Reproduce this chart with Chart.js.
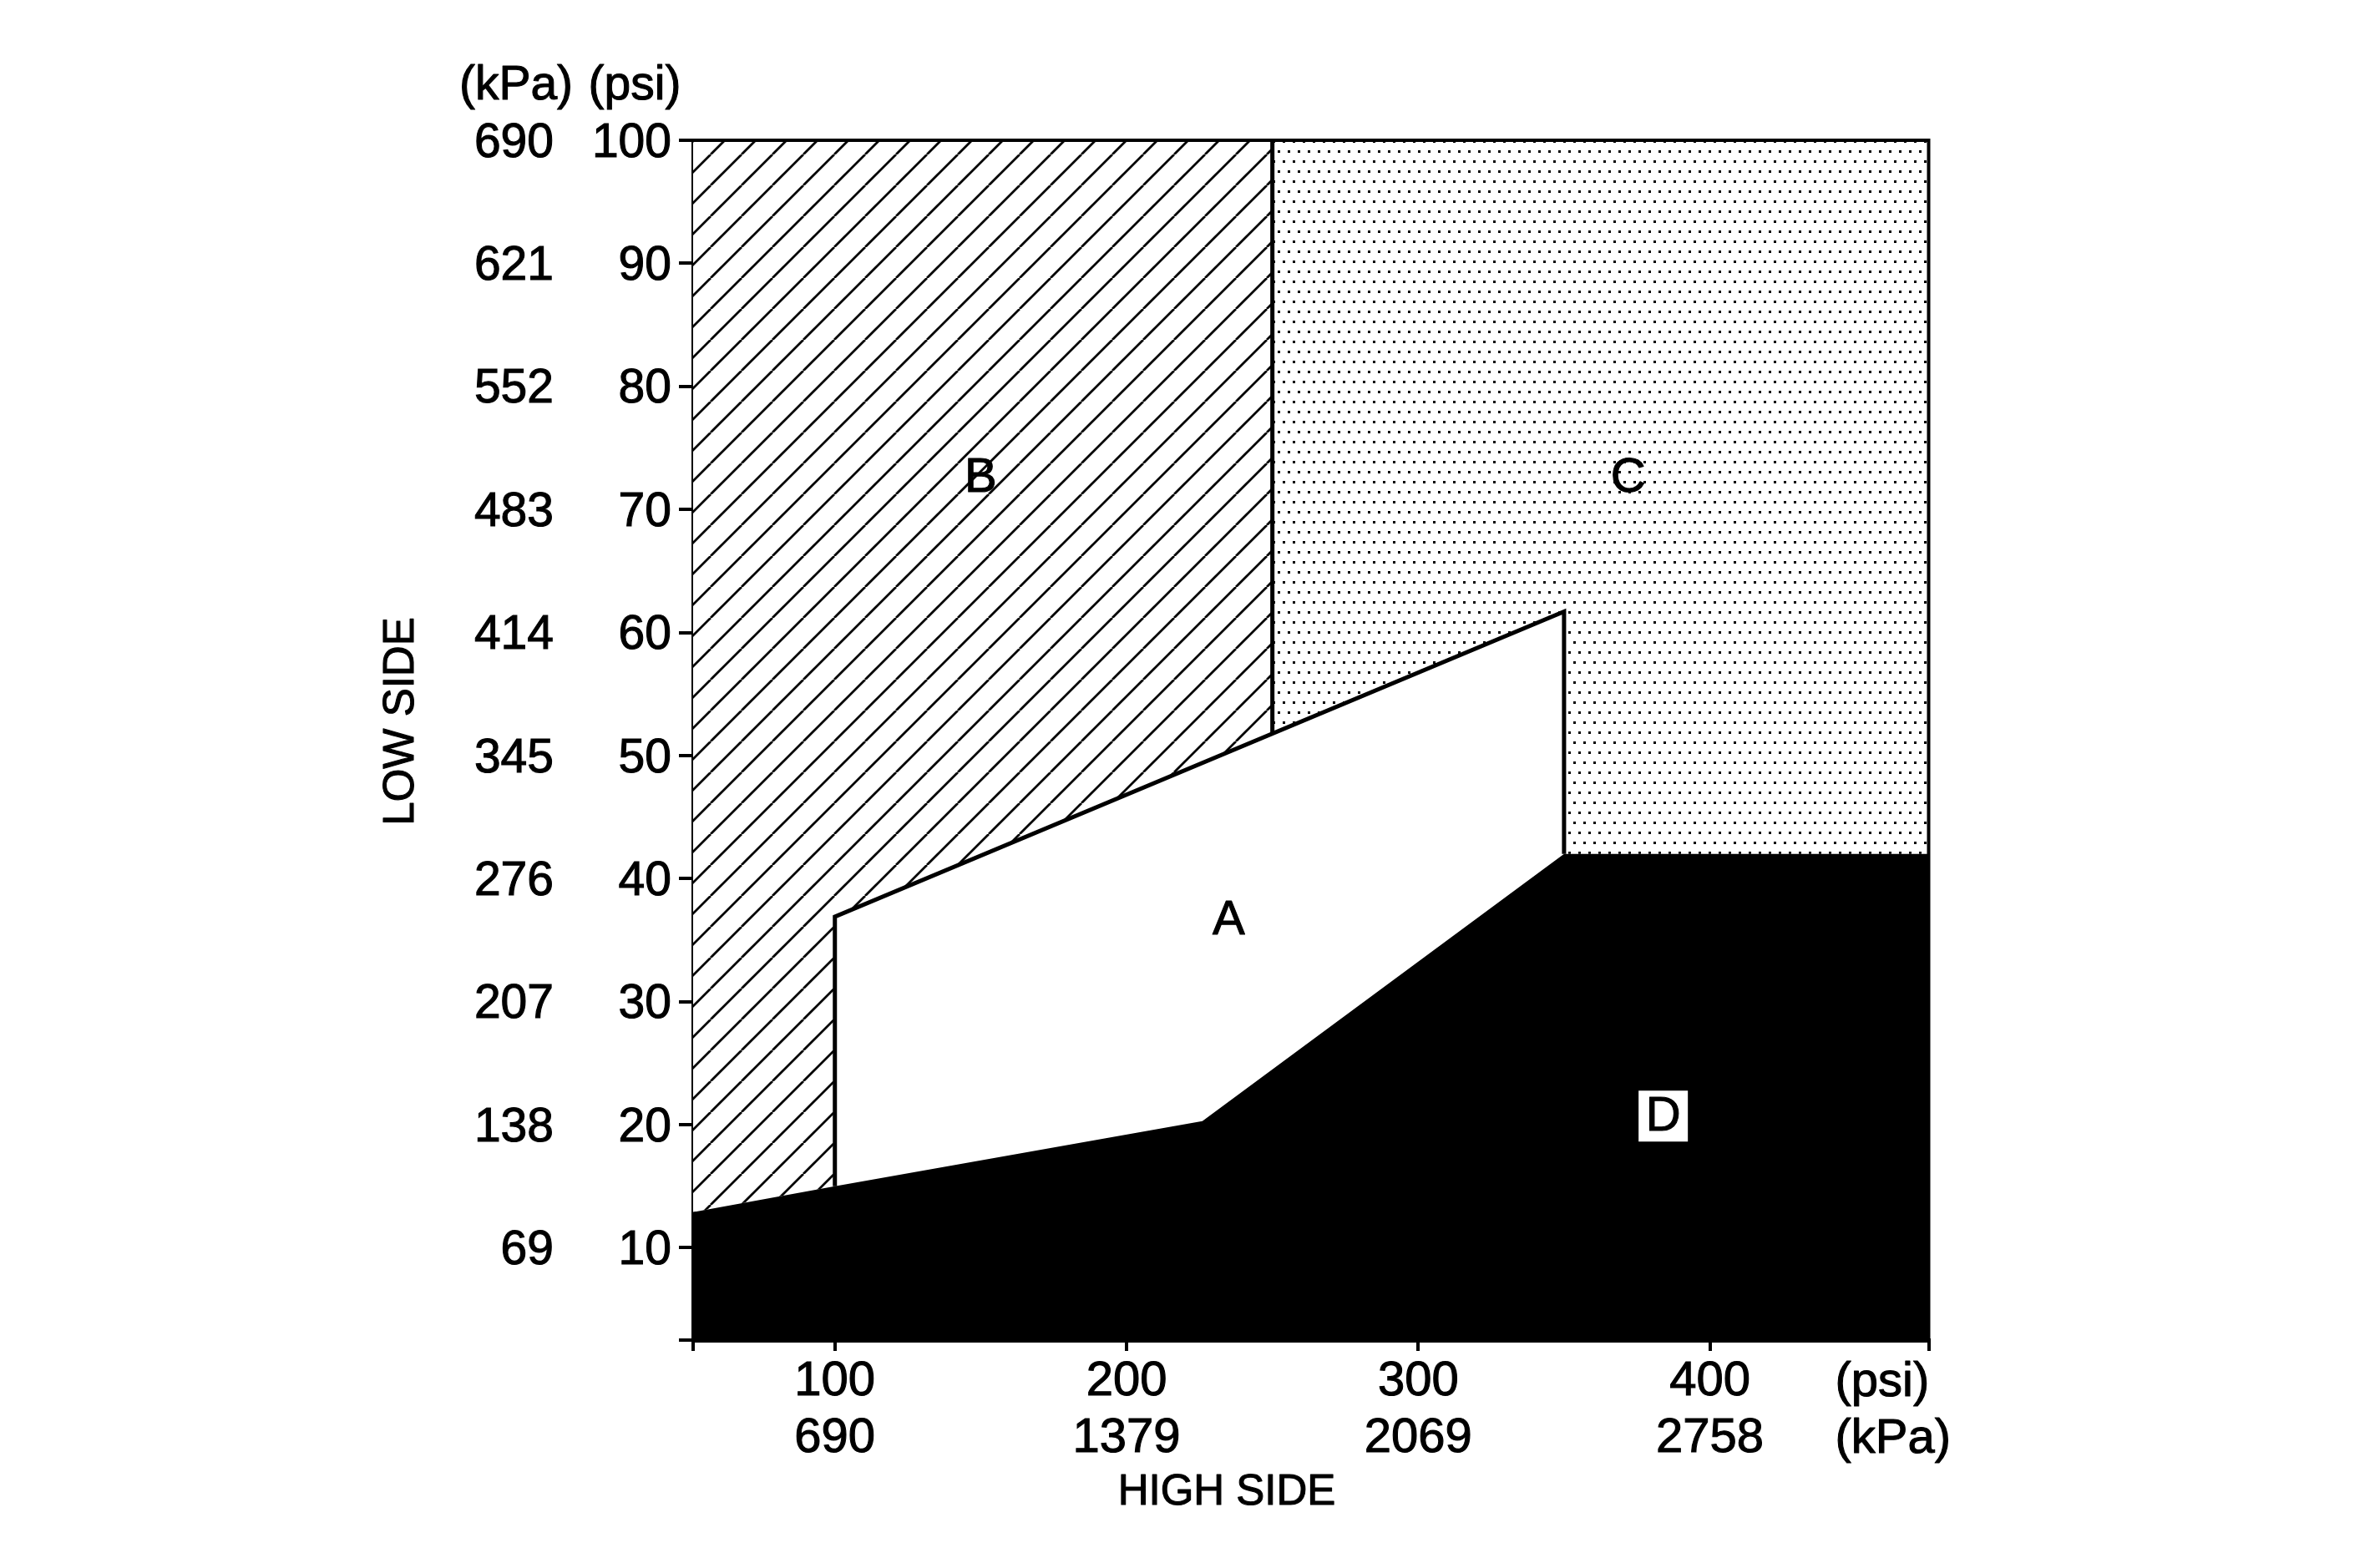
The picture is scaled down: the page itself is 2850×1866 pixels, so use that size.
<!DOCTYPE html>
<html>
<head>
<meta charset="utf-8">
<title>High side / low side pressure chart</title>
<script src="https://cdn.jsdelivr.net/npm/chart.js@4.4.1/dist/chart.umd.min.js"></script>
<style>
   html, body { margin: 0; padding: 0; background: #fff; }
   #wrapper { width: 2850px; height: 1866px; position: relative; }
</style>
</head>
<body>
<div id="wrapper"><canvas id="pressureChart"></canvas></div>
<script>
var HIGH_MIN = 51.4;
var HIGH_MAX = 475;
var LOW_MIN  = 2.5;
var LOW_MAX  = 100;

var highSidePsi = [100, 200, 300, 400];
var highSideKpa = ['690', '1379', '2069', '2758'];
var lowSidePsi  = [10, 20, 30, 40, 50, 60, 70, 80, 90, 100];
var lowSideKpa  = ['69', '138', '207', '276', '345', '414', '483', '552', '621', '690'];

// zone corners, high side psi / low side psi
var zoneAHigh = [100, 100, 350, 350, 226];
var zoneALow  = [15.0, 36.9, 61.7, 42.0, 20.3];
var zoneBHigh = [HIGH_MIN, 250, 250, 100, 100, HIGH_MIN];
var zoneBLow  = [LOW_MAX, LOW_MAX, 51.8, 36.9, 15.0, 12.9];
var zoneCHigh = [250, HIGH_MAX, HIGH_MAX, 350, 350, 250];
var zoneCLow  = [LOW_MAX, LOW_MAX, 42.0, 42.0, 61.7, 51.8];
var zoneDHigh = [HIGH_MIN, HIGH_MIN, 100, 226, 350, HIGH_MAX, HIGH_MAX];
var zoneDLow  = [LOW_MIN, 12.9, 15.0, 20.3, 42.0, 42.0, LOW_MIN];

var zoneNames    = ['A', 'B', 'C', 'D'];
var zoneNameHigh = [235, 150, 372, 384];
var zoneNameLow  = [36.6, 72.6, 72.6, 20.7];

var FONT = '"Liberation Sans", Arial, Helvetica, sans-serif';
var TEXT_STROKE = 1.1;

var toPoints = function toPoints(xs, ys, close) {
   var points = xs.map((x, i) => ({x: x, y: ys[i]}));
   if (close) {
      points.push({x: xs[0], y: ys[0]});
   }
   return points;
};

var makeHatch = function makeHatch(ctx) {
   var size = 37;
   var tile = document.createElement('canvas');
   tile.width = size;
   tile.height = size;
   var c = tile.getContext('2d');
   c.fillStyle = '#fff';
   c.fillRect(0, 0, size, size);
   c.strokeStyle = '#000';
   c.lineWidth = 2.8;
   c.beginPath();
   [-1, 0, 1].forEach(k => {
      c.moveTo(k * size, size);
      c.lineTo(k * size + size, 0);
   });
   c.stroke();
   return ctx.createPattern(tile, 'repeat');
};

var makeDots = function makeDots(ctx) {
   var tile = document.createElement('canvas');
   tile.width = 12;
   tile.height = 24;
   var c = tile.getContext('2d');
   c.fillStyle = '#fff';
   c.fillRect(0, 0, 12, 24);
   c.fillStyle = '#000';
   c.fillRect(0, 0, 3, 3);
   c.fillRect(6, 12, 3, 3);
   return ctx.createPattern(tile, 'repeat');
};

var zoneDataset = function zoneDataset(label, xs, ys, color, order) {
   return {
      label: label,
      data: toPoints(xs, ys, true),
      fill: 'shape',
      backgroundColor: color,
      borderColor: 'rgba(0,0,0,0)',
      borderWidth: 0,
      pointRadius: 0,
      order: order
   };
};

var outlineDataset = function outlineDataset(label, points, width) {
   return {
      label: label,
      data: points,
      fill: false,
      borderColor: '#000',
      borderWidth: width,
      borderJoinStyle: 'miter',
      pointRadius: 0,
      clip: false,
      order: 0
   };
};

var fixedTicks = function fixedTicks(min, values, max) {
   return function(scale) {
      scale.ticks = [min].concat(values, [max]).map(v => ({value: v}));
   };
};

var drawText = function drawText(ctx, text, x, y) {
   ctx.strokeText(text, x, y);
   ctx.fillText(text, x, y);
};

var labelPlugin = {
   id: 'pressureLabels',
   afterDraw: function(chart) {
      var ctx = chart.ctx;
      var area = chart.chartArea;
      var xScale = chart.scales.x;
      var yScale = chart.scales.y;

      ctx.save();
      ctx.fillStyle = '#000';
      ctx.strokeStyle = '#000';
      ctx.lineWidth = TEXT_STROKE;
      ctx.lineJoin = 'round';
      ctx.textBaseline = 'alphabetic';

      // unit headers over the low side columns
      ctx.font = '57px ' + FONT;
      ctx.textAlign = 'center';
      drawText(ctx, '(kPa)', area.left - 212, area.top - 49);
      drawText(ctx, '(psi)', area.left - 70, area.top - 49);

      // unit labels after the high side ticks
      ctx.font = '58px ' + FONT;
      ctx.textAlign = 'left';
      drawText(ctx, '(psi)', area.right - 112, area.bottom + 67);
      drawText(ctx, '(kPa)', area.right - 112, area.bottom + 135);

      ctx.font = '51px ' + FONT;
      ctx.textAlign = 'center';
      drawText(ctx, 'HIGH SIDE', area.left + 639, area.bottom + 197);

      ctx.save();
      ctx.translate(area.left - 349, area.top + 696);
      ctx.rotate(-Math.PI / 2);
      ctx.textBaseline = 'middle';
      drawText(ctx, 'LOW SIDE', 0, 0);
      ctx.restore();

      // zone letters
      ctx.font = '58px ' + FONT;
      ctx.textBaseline = 'middle';
      zoneNames.forEach((name, i) => {
         var px = xScale.getPixelForValue(zoneNameHigh[i]);
         var py = yScale.getPixelForValue(zoneNameLow[i]);
         if (name === 'D') {
            ctx.fillStyle = '#fff';
            ctx.fillRect(px - 29.5, py - 30.5, 59, 61);
         }
         ctx.fillStyle = '#000';
         drawText(ctx, name, px, py + 1);
      });
      ctx.restore();
   }
};

var canvas = document.getElementById('pressureChart');
var context = canvas.getContext('2d');
var hatch = makeHatch(context);
var dots = makeDots(context);

var chartConfig = {
   type: 'line',
   data: {
      datasets: [
         outlineDataset('zone A outline', toPoints(zoneAHigh.slice(0, 4), zoneALow.slice(0, 4), false), 5),
         outlineDataset('zone B edge', toPoints([250, 250], [51.8, LOW_MAX], false), 5),
         outlineDataset('frame', toPoints([HIGH_MIN, HIGH_MAX, HIGH_MAX], [LOW_MAX, LOW_MAX, LOW_MIN], false), 4),
         zoneDataset('D', zoneDHigh, zoneDLow, '#000', 1),
         zoneDataset('A', zoneAHigh, zoneALow, '#fff', 2),
         zoneDataset('C', zoneCHigh, zoneCLow, dots, 3),
         zoneDataset('B', zoneBHigh, zoneBLow, hatch, 4)
      ]
   },
   options: {
      responsive: true,
      maintainAspectRatio: false,
      devicePixelRatio: 1,
      animation: false,
      events: [],
      layout: {
         padding: {left: 520, right: 540.5, top: 168, bottom: 0}
      },
      elements: {
         line: { tension: 0 },
         point: { radius: 0 }
      },
      scales: {
         x: {
            type: 'linear',
            position: 'bottom',
            min: HIGH_MIN,
            max: HIGH_MAX,
            afterBuildTicks: fixedTicks(HIGH_MIN, highSidePsi, HIGH_MAX),
            afterFit: function(scale) {
               scale.height = 261;
            },
            ticks: {
               autoSkip: false,
               maxRotation: 0,
               minRotation: 0,
               padding: 3,
               color: '#000',
               textStrokeColor: '#000',
               textStrokeWidth: TEXT_STROKE,
               font: {family: FONT, size: 58, lineHeight: 68 / 58},
               callback: function(value) {
                  var index = highSidePsi.indexOf(value);
                  return index >= 0 ? [String(highSidePsi[index]), highSideKpa[index]] : '';
               }
            },
            grid: {
               drawOnChartArea: false,
               drawTicks: true,
               tickLength: 13,
               lineWidth: 4,
               color: '#000'
            },
            border: { display: true, color: '#000', width: 5 }
         },
         y: {
            type: 'linear',
            position: 'left',
            weight: 0,
            min: LOW_MIN,
            max: LOW_MAX,
            afterBuildTicks: fixedTicks(LOW_MIN, lowSidePsi.slice(0, -1), LOW_MAX),
            afterFit: function(scale) {
               scale.width = 160;
            },
            ticks: {
               autoSkip: false,
               padding: 9,
               labelOffset: 4,
               color: '#000',
               textStrokeColor: '#000',
               textStrokeWidth: TEXT_STROKE,
               font: {family: FONT, size: 57},
               callback: function(value) {
                  return lowSidePsi.indexOf(value) >= 0 ? String(value) : '';
               }
            },
            grid: {
               drawOnChartArea: false,
               drawTicks: true,
               tickLength: 17,
               lineWidth: 4,
               color: '#000'
            },
            border: { display: true, color: '#000', width: 5 }
         },
         yKpa: {
            type: 'linear',
            position: 'left',
            weight: 1,
            min: LOW_MIN,
            max: LOW_MAX,
            afterBuildTicks: fixedTicks(LOW_MIN, lowSidePsi.slice(0, -1), LOW_MAX),
            afterFit: function(scale) {
               scale.width = 150;
            },
            ticks: {
               autoSkip: false,
               padding: 7,
               labelOffset: 4,
               color: '#000',
               textStrokeColor: '#000',
               textStrokeWidth: TEXT_STROKE,
               font: {family: FONT, size: 57},
               callback: function(value) {
                  var index = lowSidePsi.indexOf(value);
                  return index >= 0 ? lowSideKpa[index] : '';
               }
            },
            grid: { display: false, drawTicks: false },
            border: { display: false }
         }
      },
      plugins: {
         legend: { display: false },
         tooltip: { enabled: false }
      }
   },
   plugins: [labelPlugin]
};

var chart = new Chart(canvas, chartConfig);
</script>
</body>
</html>
